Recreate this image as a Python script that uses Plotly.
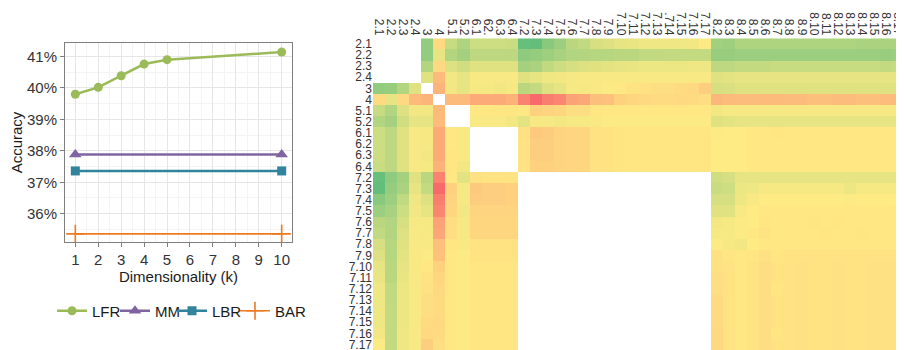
import plotly.graph_objects as go

# ---------------- Left chart data ----------------
k_lfr = [1, 2, 3, 4, 5, 10]
lfr = [39.80, 40.02, 40.39, 40.76, 40.90, 41.14]
k_flat = [1, 10]
mm = [37.88, 37.88]
lbr = [37.36, 37.36]
bar = [35.36, 35.36]
k_ticks = [1, 2, 3, 4, 5, 6, 7, 8, 9, 10]

# ---------------- Heatmap labels ----------------
row_labels = ["2.1", "2.2", "2.3", "2.4", "3", "4", "5.1", "5.2", "6.1", "6.2", "6.3", "6.4",
              "7.2", "7.3", "7.4", "7.5", "7.6", "7.7", "7.8", "7.9", "7.10", "7.11", "7.12",
              "7.13", "7.14", "7.15", "7.16", "7.17"]
col_labels = ["2.1", "2.2", "2.3", "2.4", "3", "4", "5.1", "5.2", "6.1", "62.", "6.3", "6.4",
              "7.2", "7.3", "7.4", "7.5", "7.6", "7.7", "7.8", "7.9", "7.10", "7.11", "7.12",
              "7.13", ".714", "7.15", "7.16", "7.17",
              "8.2", "8.3", "8.4", "8.5", "8.6", "8.7", "8.8", "8.9", "8.10", "8.11", "8.12",
              "8.13", "8.14", "8.15", "8.16", "8.17"]

N = None
# one list per row: 0 = red, 50 = yellow, 100 = green
r_2_1 = [N, N, N, N, 85, 43, 68, 76, 66, 66, 66, 67, 99, 100, 88, 82, 72, 70, 63, 61, 58, 57, 55, 55, 55, 55, 54, 51,
         80, 81, 76, 76, 76, 76, 76, 76, 76, 76, 76, 76, 77, 77, 77, 77]
r_2_2 = [N, N, N, N, 85, 58, 74, 79, 71, 71, 71, 71, 86, 84, 81, 78, 75, 74, 73, 73, 72, 72, 70, 70, 69, 69, 69, 69,
         83, 83, 82, 82, 82, 82, 82, 82, 82, 82, 82, 82, 82, 82, 83, 82]
r_2_3 = [N, N, N, N, 74, 43, 61, 65, 60, 60, 60, 60, 79, 77, 70, 66, 63, 61, 60, 59, 58, 57, 56, 56, 56, 56, 55, 55,
         71, 71, 69, 69, 69, 68, 68, 68, 68, 68, 68, 68, 68, 68, 69, 68]
r_2_4 = [N, N, N, N, 60, 31, 54, 58, 52, 52, 52, 52, 60, 58, 55, 54, 53, 52, 52, 52, 52, 52, 52, 52, 52, 52, 52, 52,
         60, 59, 58, 58, 58, 58, 58, 58, 58, 58, 58, 58, 58, 58, 58, 58]
r_3 = [85, 83, 74, 60, N, 29, 54, 58, 53, 53, 54, 53, 72, 69, 61, 58, 53, 53, 52, 51, 49, 47, 46, 45, 45, 44, 43, 39,
       63, 62, 60, 60, 60, 60, 60, 60, 60, 60, 60, 60, 60, 60, 60, 60]
r_4 = [44, 58, 43, 31, 29, N, 31, 31, 25, 25, 25, 28, 10, 0, 8, 11, 22, 24, 33, 34, 40, 42, 43, 44, 44, 43, 44, 45,
       30, 31, 32, 32, 31, 31, 32, 32, 33, 33, 32, 32, 33, 33, 32, 31]
r_5_1 = [68, 75, 61, 54, 54, 31, N, N, 49, 49, 48, 48, 49, 40, 41, 42, 45, 45, 48, 49, 49, 49, 49, 49, 49, 49, 49, 49,
         54, 53, 53, 53, 53, 53, 53, 53, 53, 53, 53, 53, 53, 53, 53, 53]
r_5_2 = [75, 79, 65, 58, 58, 31, N, N, 52, 52, 52, 54, 59, 53, 53, 54, 53, 53, 52, 51, 51, 51, 51, 51, 51, 51, 51, 51,
         60, 59, 58, 58, 58, 58, 58, 58, 58, 58, 58, 58, 58, 58, 58, 58]
r_6_1 = [66, 71, 60, 52, 53, 25, 49, 52, N, N, N, N, 46, 37, 38, 41, 42, 42, 47, 47, 48, 48, 48, 48, 48, 48, 48, 48,
         51, 50, 50, 49, 49, 48, 49, 49, 49, 49, 49, 49, 49, 49, 49, 49]
r_6_2 = [66, 71, 60, 52, 53, 25, 49, 52, N, N, N, N, 47, 39, 39, 41, 42, 42, 47, 47, 48, 48, 48, 48, 48, 48, 48, 48,
         50, 50, 50, 49, 49, 49, 49, 49, 49, 49, 49, 49, 49, 49, 49, 49]
r_6_3 = [66, 71, 60, 52, 54, 25, 48, 52, N, N, N, N, 47, 39, 39, 41, 42, 42, 47, 47, 48, 48, 48, 48, 48, 48, 48, 48,
         50, 50, 50, 49, 49, 49, 49, 49, 49, 49, 49, 49, 49, 49, 49, 49]
r_6_4 = [67, 71, 60, 52, 53, 28, 48, 54, N, N, N, N, 47, 40, 40, 41, 42, 42, 47, 47, 48, 48, 48, 48, 48, 48, 48, 48,
         50, 50, 50, 49, 49, 49, 49, 49, 49, 49, 49, 49, 49, 49, 49, 49]
r_7_2 = [99, 86, 79, 60, 72, 10, 49, 59, 46, 47, 47, 47, N, N, N, N, N, N, N, N, N, N, N, N, N, N, N, N,
         65, 63, 58, 58, 58, 58, 58, 58, 58, 58, 58, 58, 58, 58, 58, 58]
r_7_3 = [100, 84, 77, 58, 69, 0, 40, 53, 37, 39, 39, 40, N, N, N, N, N, N, N, N, N, N, N, N, N, N, N, N,
         67, 66, 56, 55, 53, 53, 53, 53, 53, 53, 53, 56, 53, 53, 53, 53]
r_7_4 = [88, 81, 70, 55, 61, 8, 41, 53, 38, 39, 39, 40, N, N, N, N, N, N, N, N, N, N, N, N, N, N, N, N,
         63, 63, 55, 52, 50, 50, 50, 50, 50, 50, 50, 51, 50, 50, 50, 50]
r_7_5 = [82, 78, 66, 54, 58, 11, 42, 54, 41, 41, 41, 41, N, N, N, N, N, N, N, N, N, N, N, N, N, N, N, N,
         60, 60, 52, 50, 49, 49, 49, 49, 49, 49, 49, 49, 49, 49, 49, 49]
r_7_6 = [72, 75, 63, 53, 53, 22, 45, 53, 42, 42, 42, 42, N, N, N, N, N, N, N, N, N, N, N, N, N, N, N, N,
         54, 53, 51, 50, 48, 49, 49, 49, 48, 49, 48, 49, 49, 49, 49, 49]
r_7_7 = [70, 74, 61, 52, 53, 24, 45, 53, 42, 42, 42, 42, N, N, N, N, N, N, N, N, N, N, N, N, N, N, N, N,
         53, 53, 51, 49, 47, 49, 49, 49, 49, 48, 49, 49, 48, 49, 49, 49]
r_7_8 = [63, 73, 60, 52, 52, 33, 48, 52, 47, 47, 47, 47, N, N, N, N, N, N, N, N, N, N, N, N, N, N, N, N,
         51, 53, 54, 50, 49, 49, 49, 49, 49, 49, 49, 49, 49, 49, 49, 49]
r_7_9 = [61, 73, 59, 52, 51, 34, 49, 51, 47, 47, 47, 47, N, N, N, N, N, N, N, N, N, N, N, N, N, N, N, N,
         46, 48, 49, 48, 46, 48, 47, 47, 47, 47, 47, 47, 47, 47, 47, 47]
r_7_10 = [58, 72, 58, 52, 49, 40, 49, 51, 48, 48, 48, 48, N, N, N, N, N, N, N, N, N, N, N, N, N, N, N, N,
          46, 47, 49, 47, 45, 47, 47, 46, 47, 47, 46, 47, 47, 46, 46, 46]
r_7_11 = [57, 72, 57, 52, 47, 42, 49, 51, 48, 48, 48, 48, N, N, N, N, N, N, N, N, N, N, N, N, N, N, N, N,
          45, 47, 49, 47, 45, 47, 47, 46, 47, 47, 46, 47, 47, 46, 46, 46]
r_7_12 = [55, 70, 56, 52, 46, 43, 49, 51, 48, 48, 48, 48, N, N, N, N, N, N, N, N, N, N, N, N, N, N, N, N,
          45, 47, 49, 47, 45, 48, 47, 46, 47, 47, 46, 47, 47, 46, 46, 46]
r_7_13 = [55, 70, 56, 52, 45, 44, 49, 51, 48, 48, 48, 48, N, N, N, N, N, N, N, N, N, N, N, N, N, N, N, N,
          44, 47, 49, 47, 45, 47, 47, 46, 47, 47, 46, 47, 47, 46, 46, 46]
r_7_14 = [55, 69, 56, 52, 45, 44, 49, 51, 48, 48, 48, 48, N, N, N, N, N, N, N, N, N, N, N, N, N, N, N, N,
          44, 47, 49, 47, 45, 47, 47, 46, 47, 47, 46, 47, 47, 46, 46, 46]
r_7_15 = [55, 69, 56, 52, 44, 43, 49, 51, 48, 48, 48, 48, N, N, N, N, N, N, N, N, N, N, N, N, N, N, N, N,
          44, 47, 49, 47, 45, 47, 47, 46, 47, 47, 46, 47, 47, 46, 46, 46]
r_7_16 = [54, 69, 55, 52, 43, 44, 49, 51, 48, 48, 48, 48, N, N, N, N, N, N, N, N, N, N, N, N, N, N, N, N,
          43, 47, 49, 47, 45, 48, 47, 46, 47, 47, 46, 47, 47, 46, 46, 46]
r_7_17 = [51, 69, 55, 52, 39, 45, 49, 51, 48, 48, 48, 48, N, N, N, N, N, N, N, N, N, N, N, N, N, N, N, N,
          43, 47, 49, 47, 45, 47, 47, 46, 47, 47, 46, 47, 47, 46, 46, 46]

z = [r_2_1, r_2_2, r_2_3, r_2_4, r_3, r_4, r_5_1, r_5_2, r_6_1, r_6_2, r_6_3, r_6_4,
     r_7_2, r_7_3, r_7_4, r_7_5, r_7_6, r_7_7, r_7_8, r_7_9, r_7_10, r_7_11, r_7_12,
     r_7_13, r_7_14, r_7_15, r_7_16, r_7_17]

# ---------------- Figure ----------------
# page body has an 8px margin, so the figure is laid out in a 896x342 box
W, H, OFF = 896, 342, 8


def fx(px):
    return (px - OFF) / W


def fy(py):
    return 1 - (py - OFF) / H


FONT = "Liberation Sans, Arial, sans-serif"
C_LFR, C_MM, C_LBR, C_BAR = "#9BBB59", "#8064A2", "#31849B", "#EE7A1E"

fig = go.Figure()
fig.add_trace(go.Scatter(x=k_lfr, y=lfr, name="LFR", mode="lines+markers", legend="legend",
                         line=dict(color=C_LFR, width=2.5),
                         marker=dict(symbol="circle", size=9, color=C_LFR),
                         xaxis="x", yaxis="y"))
fig.add_trace(go.Scatter(x=k_flat, y=mm, name="MM", mode="lines+markers", legend="legend2",
                         line=dict(color=C_MM, width=2.5),
                         marker=dict(symbol="triangle-up", size=11, color=C_MM),
                         xaxis="x", yaxis="y"))
fig.add_trace(go.Scatter(x=k_flat, y=lbr, name="LBR", mode="lines+markers", legend="legend3",
                         line=dict(color=C_LBR, width=2.5),
                         marker=dict(symbol="square", size=9, color=C_LBR),
                         xaxis="x", yaxis="y"))
fig.add_trace(go.Scatter(x=k_flat, y=bar, name="BAR", mode="lines+markers", legend="legend4",
                         line=dict(color=C_BAR, width=1.6),
                         marker=dict(symbol="cross-thin", size=13, color=C_BAR,
                                     line=dict(color=C_BAR, width=1.6)),
                         xaxis="x", yaxis="y"))

fig.add_trace(go.Heatmap(z=z, x=col_labels, y=row_labels,
                         colorscale=[[0, "#F8696B"], [0.5, "#FFEB84"], [1, "#63BE7B"]],
                         zmin=0, zmax=100, showscale=False, xgap=0, ygap=0,
                         hoverongaps=False, xaxis="x2", yaxis="y2"))


def leg(px_left):
    return dict(orientation="h", x=fx(px_left), xanchor="left", y=fy(311), yanchor="middle",
                font=dict(size=15, color="#1a1a1a"), itemwidth=30,
                bgcolor="rgba(0,0,0,0)")


grid_major = "#E6E6E6"
grid_minor = "#F4F4F4"
fig.update_layout(
    width=W, height=H,
    margin=dict(l=0, r=0, t=0, b=0),
    paper_bgcolor="white", plot_bgcolor="white",
    template="none",
    font=dict(family=FONT, size=15, color="#1a1a1a"),
    showlegend=True,
    legend=leg(52), legend2=leg(115), legend3=leg(172), legend4=leg(235),
    xaxis=dict(domain=[fx(65), fx(292)], range=[0.55, 10.45],
               tickmode="array", tickvals=k_ticks,
               showgrid=True, gridcolor=grid_major, gridwidth=1,
               minor=dict(dtick=0.5, tick0=0, showgrid=True, gridcolor=grid_minor, gridwidth=1),
               zeroline=False, showline=True, mirror=True, linecolor="#7F7F7F", linewidth=1,
               ticks="outside", ticklen=4, tickcolor="#7F7F7F",
               tickfont=dict(size=15, color="#333333"),
               title=dict(text="Dimensionality (k)", font=dict(size=15, color="#1a1a1a"), standoff=0)),
    yaxis=dict(domain=[fy(242), fy(43)], range=[35.1, 41.43],
               tickmode="linear", tick0=36, dtick=1, ticksuffix="%",
               showgrid=True, gridcolor=grid_major, gridwidth=1,
               minor=dict(dtick=0.5, tick0=0, showgrid=True, gridcolor=grid_minor, gridwidth=1),
               zeroline=False, showline=True, mirror=True, linecolor="#7F7F7F", linewidth=1,
               ticks="outside", ticklen=4, tickcolor="#7F7F7F",
               tickfont=dict(size=15, color="#333333"),
               title=dict(text="Accuracy", font=dict(size=15, color="#1a1a1a"), standoff=2)),
    xaxis2=dict(domain=[fx(373), 1.0], anchor="y2", side="top", type="category",
                tickmode="array", tickvals=col_labels, ticktext=col_labels,
                tickangle=90, showgrid=False, zeroline=False, showline=False, ticks="",
                tickfont=dict(size=12, color="#333333")),
    yaxis2=dict(domain=[0.0, fy(38.3)], anchor="x2", type="category",
                tickmode="array", tickvals=row_labels, ticktext=row_labels,
                autorange="reversed", showgrid=False, zeroline=False, showline=False, ticks="",
                tickfont=dict(size=12, color="#333333")),
)

fig.write_html("out.html")
